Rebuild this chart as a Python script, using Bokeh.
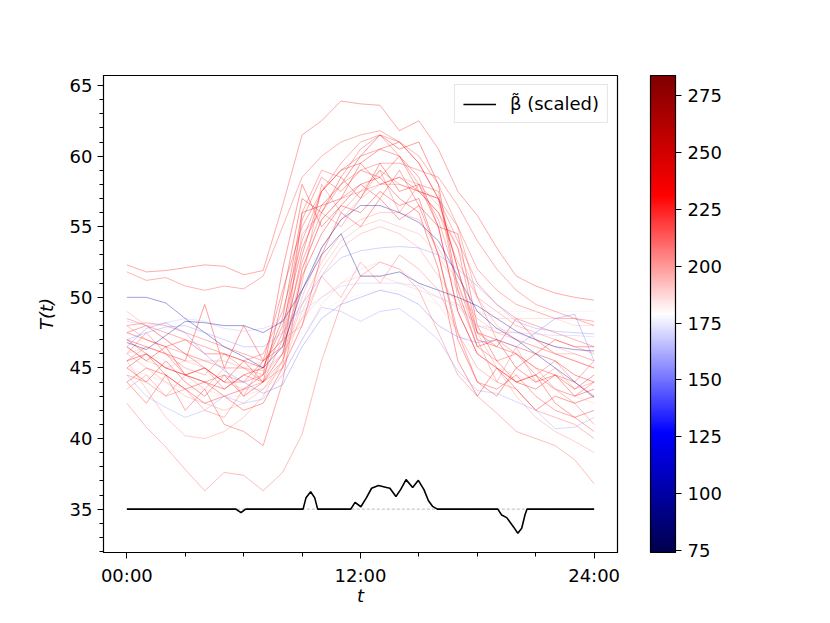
from bokeh.plotting import figure
from bokeh.models import (LinearColorMapper, ColorBar, FixedTicker, Range1d,
                          Legend, LegendItem)
from bokeh.embed import file_html
from bokeh.resources import INLINE

# ---------------- data ----------------
hours = list(range(25))

T01 = [52.3, 51.8, 51.9, 52.1, 52.3, 52.2, 51.6, 51.9, 56.5, 61.5, 62.5, 63.9, 63.7, 63.6, 61.8, 62.5, 60.5, 57.5, 55.8, 53.5, 51.5, 50.8, 50.3, 50.0, 49.8]
T02 = [51.8, 51.2, 51.4, 50.8, 50.5, 50.8, 50.6, 51.5, 55.0, 58.5, 60.0, 61.0, 61.5, 61.8, 61.0, 60.0, 58.0, 55.0, 52.0, 50.5, 49.5, 49.0, 48.5, 48.5, 48.3]
T03 = [42.5, 40.8, 39.4, 37.8, 36.3, 37.6, 37.4, 36.3, 37.6, 40.3, 45.5, 49.5, 51.5, 52.5, 52.0, 50.5, 47.5, 44.5, 43.0, 41.8, 40.5, 40.0, 39.5, 38.5, 36.8]
T04 = [44.0, 42.5, 44.5, 42.0, 43.5, 41.0, 40.5, 39.5, 44.0, 52.0, 55.5, 57.0, 58.0, 57.0, 59.0, 56.5, 53.0, 47.5, 44.0, 43.5, 44.5, 43.0, 42.0, 41.5, 40.5]
T05 = [45.5, 43.5, 41.5, 40.2, 40.0, 40.5, 41.5, 43.0, 45.5, 49.5, 52.5, 54.5, 55.5, 56.0, 56.0, 55.5, 53.5, 51.0, 47.5, 45.0, 43.0, 41.5, 40.5, 39.8, 39.0]
T06 = [47.0, 46.5, 46.0, 45.5, 49.5, 45.0, 48.0, 45.5, 46.5, 53.0, 57.5, 59.0, 59.5, 60.5, 61.0, 59.5, 57.0, 52.0, 47.0, 46.5, 48.5, 47.0, 46.0, 45.5, 45.0]
T07 = [46.0, 47.5, 46.0, 44.5, 45.0, 43.5, 44.5, 44.0, 45.0, 56.0, 59.0, 58.5, 60.5, 61.5, 60.0, 58.0, 57.5, 50.0, 46.5, 45.5, 46.0, 44.5, 45.5, 44.0, 45.5]
T08 = [48.0, 47.0, 46.5, 46.0, 45.5, 45.0, 45.0, 44.5, 46.0, 52.0, 55.5, 57.0, 57.5, 58.0, 58.0, 57.5, 56.0, 52.5, 50.0, 49.0, 48.0, 47.5, 47.0, 46.5, 46.0]
T09 = [45.0, 44.0, 45.5, 44.0, 43.0, 44.5, 43.0, 44.0, 50.0, 57.0, 56.0, 58.5, 57.0, 59.5, 57.5, 58.0, 55.0, 49.0, 46.0, 45.0, 44.0, 43.5, 44.5, 43.0, 43.5]
T10 = [46.5, 45.5, 45.0, 45.5, 45.0, 44.0, 43.5, 43.5, 45.0, 49.0, 52.0, 54.0, 55.0, 55.5, 55.0, 54.5, 53.0, 50.5, 48.5, 47.5, 47.5, 47.0, 46.5, 46.0, 45.5]
T11 = [47.5, 48.0, 47.0, 46.0, 45.0, 44.0, 44.0, 45.5, 50.5, 55.0, 57.5, 59.0, 60.0, 60.5, 60.0, 58.5, 55.0, 49.0, 46.0, 45.0, 44.0, 44.5, 43.5, 43.0, 44.0]
T12 = [45.5, 46.5, 46.0, 45.0, 44.5, 46.0, 45.0, 44.0, 45.5, 51.0, 58.0, 56.0, 57.5, 59.0, 56.0, 58.0, 55.5, 51.0, 47.0, 44.0, 43.5, 42.0, 41.5, 41.0, 40.0]
T13 = [44.0, 45.0, 44.5, 43.5, 44.0, 43.0, 43.5, 44.5, 52.0, 58.0, 55.0, 56.5, 56.0, 57.5, 56.5, 57.0, 53.0, 47.0, 44.0, 43.0, 45.0, 44.0, 44.5, 43.5, 44.5]
T14 = [46.0, 45.0, 44.0, 43.0, 42.5, 42.0, 42.5, 43.5, 45.5, 50.0, 53.5, 55.5, 57.0, 58.0, 58.5, 58.0, 56.5, 53.5, 50.0, 48.0, 47.0, 46.5, 46.0, 46.0, 45.5]
T15 = [48.5, 48.0, 47.5, 47.0, 46.5, 46.0, 45.5, 46.0, 49.0, 54.0, 57.5, 59.5, 61.0, 61.5, 61.0, 59.5, 57.0, 54.0, 51.0, 49.5, 48.5, 48.0, 47.5, 47.0, 46.5]
T16 = [47.0, 46.0, 45.0, 44.5, 44.0, 44.5, 44.0, 44.5, 47.5, 55.5, 58.5, 57.5, 59.0, 58.5, 60.0, 57.5, 56.0, 53.5, 47.5, 46.5, 46.0, 45.0, 44.5, 44.0, 43.0]
T17 = [46.0, 46.5, 46.0, 45.5, 45.5, 45.0, 45.0, 45.5, 46.5, 48.5, 50.0, 51.0, 51.5, 51.5, 51.0, 50.5, 50.0, 49.5, 49.0, 48.5, 48.5, 48.5, 48.5, 48.0, 48.0]
T18 = [46.5, 46.0, 45.5, 45.0, 44.5, 44.5, 44.0, 44.5, 45.5, 47.5, 49.0, 49.8, 50.2, 50.5, 50.5, 50.0, 49.5, 49.0, 49.0, 49.0, 49.0, 49.0, 49.0, 49.0, 49.0]
T19 = [45.0, 46.0, 44.5, 43.5, 42.5, 43.0, 42.0, 42.5, 45.0, 48.0, 53.0, 56.0, 55.0, 57.0, 55.5, 56.5, 55.0, 54.5, 48.0, 45.5, 44.0, 44.5, 42.5, 41.5, 42.0]
T20 = [44.5, 44.0, 43.0, 43.5, 42.0, 41.5, 43.5, 44.0, 47.0, 54.5, 56.0, 55.0, 57.0, 59.0, 58.0, 57.5, 57.0, 55.0, 50.0, 47.0, 46.0, 45.0, 43.5, 42.5, 41.0]
T21 = [48.0, 48.2, 48.0, 47.5, 47.0, 46.5, 46.0, 45.5, 47.0, 52.5, 56.0, 58.0, 59.0, 59.5, 59.5, 59.0, 58.5, 56.5, 54.0, 52.0, 50.5, 49.5, 49.0, 48.5, 48.0]
T22 = [43.5, 44.5, 43.0, 44.5, 43.5, 45.0, 43.0, 45.5, 47.0, 48.0, 51.5, 50.0, 52.5, 51.0, 53.0, 52.0, 50.5, 47.5, 45.0, 44.0, 46.5, 44.0, 45.0, 43.5, 44.0]
T23 = [47.5, 47.0, 46.5, 47.0, 46.0, 46.0, 45.5, 45.0, 48.0, 53.5, 56.5, 57.0, 59.5, 58.0, 58.5, 57.5, 57.0, 52.0, 47.5, 47.0, 46.5, 46.0, 47.0, 46.5, 46.5]
T24 = [49.0, 48.0, 47.0, 46.0, 45.5, 45.5, 45.0, 44.8, 46.0, 48.5, 51.5, 53.5, 54.5, 55.0, 54.5, 53.5, 51.5, 49.5, 48.0, 47.5, 47.0, 46.5, 46.0, 45.5, 45.0]
T25 = [46.5, 45.5, 46.5, 44.5, 45.0, 44.0, 45.5, 44.0, 46.0, 51.5, 54.5, 56.5, 58.0, 58.5, 57.0, 56.0, 52.0, 45.5, 43.0, 45.0, 43.5, 42.0, 43.0, 42.5, 43.0]
T26 = [45.0, 44.5, 44.0, 43.5, 43.5, 43.0, 43.0, 43.5, 44.5, 47.0, 49.5, 51.0, 52.0, 52.5, 52.0, 51.0, 49.5, 47.5, 46.0, 45.0, 44.5, 44.0, 43.5, 43.0, 42.5]
T27 = [45.5, 46.0, 45.0, 44.5, 44.0, 43.5, 44.5, 45.0, 48.5, 56.0, 56.5, 58.0, 60.0, 61.5, 60.5, 61.0, 58.0, 50.5, 46.5, 47.0, 45.0, 46.0, 45.5, 44.5, 44.0]
T28 = [47.0, 47.5, 47.9, 48.0, 47.5, 47.0, 46.5, 46.5, 47.5, 49.5, 51.5, 52.8, 53.3, 53.5, 53.6, 53.5, 53.0, 52.0, 50.8, 49.5, 48.3, 47.8, 47.6, 47.5, 47.4]
T29 = [48.3, 48.0, 48.2, 48.5, 48.3, 47.8, 47.6, 47.8, 48.3, 49.0, 50.0, 50.8, 51.0, 51.0, 51.0, 50.8, 50.0, 49.3, 48.0, 47.8, 47.5, 47.4, 47.3, 47.3, 47.2]
T30 = [44.5, 43.0, 42.2, 41.5, 42.0, 43.0, 42.5, 42.8, 44.5, 47.0, 49.3, 49.0, 48.3, 49.0, 49.2, 48.2, 47.0, 44.8, 43.4, 43.2, 42.6, 42.0, 40.7, 40.8, 41.5]
T31 = [46.5, 47.8, 48.2, 47.5, 46.0, 44.8, 44.0, 43.2, 43.8, 46.5, 48.5, 49.5, 50.0, 50.5, 50.2, 49.5, 48.0, 47.2, 46.8, 47.0, 46.5, 47.5, 48.5, 48.8, 45.5]
T32 = [46.8, 46.3, 47.3, 48.3, 48.2, 48.0, 48.0, 47.5, 48.3, 50.5, 53.0, 54.5, 51.5, 51.5, 51.8, 51.0, 50.5, 50.0, 49.4, 48.5, 47.6, 47.0, 46.5, 46.3, 46.2]
T33 = [50.0, 50.0, 49.6, 48.5, 47.5, 46.5, 45.8, 45.0, 46.5, 50.5, 53.5, 55.5, 56.5, 56.5, 56.0, 55.3, 54.0, 51.5, 49.0, 47.8, 47.0, 46.0, 45.0, 44.0, 42.9]

curves = [T01, T02, T03, T04, T05, T06, T07, T08, T09, T10, T11, T12, T13, T14,
          T15, T16, T17, T18, T19, T20, T21, T22, T23, T24, T25, T26, T27, T28,
          T29, T30, T31, T32, T33]
curve_values = [225, 220, 215, 225, 205, 230, 220, 210, 235, 200, 225, 215, 230, 205,
                220, 225, 195, 185, 230, 215, 220, 210, 228, 205, 235, 192, 240, 155,
                165, 158, 150, 95, 100]

beta_t = [0, 5.6, 5.86, 6.1, 9.05, 9.2, 9.44, 9.65, 9.8, 11.5, 11.72, 12.02, 12.3,
          12.57, 12.92, 13.34, 13.51, 13.82, 14.06, 14.34, 14.68, 14.97, 15.26, 15.49,
          15.7, 15.95, 19.05, 19.25, 19.51, 19.85, 20.08, 20.28, 20.45, 20.55, 24]
beta_v = [35, 35, 34.75, 35, 35, 35.8, 36.23, 35.8, 35, 35, 35.48, 35.17, 35.8,
          36.48, 36.67, 36.53, 36.48, 35.9, 36.38, 37.09, 36.53, 37.04, 36.38, 35.6,
          35.2, 35, 35, 34.59, 34.4, 33.76, 33.29, 33.65, 34.6, 35, 35]
baseline_t = [0, 24]
baseline_v = [35, 35]

x_ticks = [0, 12, 24]
x_tick_labels = ["00:00", "12:00", "24:00"]
y_ticks = [35, 40, 45, 50, 55, 60, 65]
cbar_ticks = [75, 100, 125, 150, 175, 200, 225, 250, 275]
c_low, c_high = 74, 284

# ---------------- colormap (seismic) ----------------
_stops = [(0.0, (0.0, 0.0, 0.3)), (0.25, (0.0, 0.0, 1.0)), (0.5, (1.0, 1.0, 1.0)),
          (0.75, (1.0, 0.0, 0.0)), (1.0, (0.5, 0.0, 0.0))]


def seismic(t):
    t = min(max(t, 0.0), 1.0)
    for (a, ca), (b, cb) in zip(_stops[:-1], _stops[1:]):
        if t <= b:
            f = (t - a) / (b - a)
            rgb = [ca[i] + f * (cb[i] - ca[i]) for i in range(3)]
            return "#%02x%02x%02x" % tuple(int(round(255 * v)) for v in rgb)
    return "#800000"


palette = [seismic(i / 255) for i in range(256)]

# ---------------- figure ----------------
p = figure(frame_width=514, frame_height=477,
           x_range=Range1d(-1.2, 25.2), y_range=Range1d(31.93, 65.71),
           output_backend="svg", toolbar_location=None,
           min_border_left=103, min_border_top=75, min_border_bottom=55,
           min_border_right=150)
p.grid.visible = False
p.outline_line_color = "black"
p.outline_line_width = 1.2
p.background_fill_color = "white"
p.border_fill_color = "white"

for ys, cv in zip(curves, curve_values):
    p.line(hours, ys, line_color=seismic((cv - c_low) / (c_high - c_low)),
           line_alpha=0.42, line_width=0.9)

p.line(baseline_t, baseline_v, line_color="#aaaaaa", line_width=0.8, line_dash="3 2")
beta_r = p.line(beta_t, beta_v, line_color="black", line_width=1.6)

legend = Legend(items=[LegendItem(label="β̃ (scaled)", renderers=[beta_r])],
                location="top_right")
legend.label_text_font = "DejaVu Sans"
legend.label_text_font_size = "18px"
legend.label_text_color = "black"
legend.border_line_color = "#cccccc"
legend.border_line_width = 1
legend.background_fill_alpha = 0.8
legend.margin = 9
legend.padding = 8
legend.glyph_width = 33
legend.label_standoff = 14
p.add_layout(legend)

for ax in (p.xaxis[0], p.yaxis[0]):
    ax.major_tick_in = 0
    ax.major_tick_out = 6
    ax.minor_tick_in = 0
    ax.minor_tick_out = 4
    ax.major_tick_line_color = "black"
    ax.minor_tick_line_color = "black"
    ax.axis_line_color = "black"
    ax.major_label_text_font = "DejaVu Sans"
    ax.major_label_text_font_size = "18px"
    ax.major_label_text_color = "black"
    ax.axis_label_text_font = "DejaVu Sans"
    ax.axis_label_text_font_size = "18px"
    ax.axis_label_text_font_style = "italic"
    ax.axis_label_text_color = "black"

p.xaxis.ticker = FixedTicker(ticks=x_ticks, minor_ticks=[3, 6, 9, 15, 18, 21])
p.xaxis.major_label_overrides = dict(zip(x_ticks, x_tick_labels))
p.xaxis.axis_label = "t"
p.xaxis.major_label_standoff = 6
p.xaxis.axis_label_standoff = -4

p.yaxis.ticker = FixedTicker(ticks=y_ticks, minor_ticks=list(range(32, 66)))
p.yaxis.axis_label = "T(t)"
p.yaxis.major_label_standoff = 5
p.yaxis.axis_label_standoff = 10

mapper = LinearColorMapper(palette=palette, low=c_low, high=c_high)
cbar = ColorBar(color_mapper=mapper, ticker=FixedTicker(ticks=cbar_ticks),
                width=25, height=477, padding=0, margin=0, location=(33, 0),
                major_label_text_font="DejaVu Sans",
                major_label_text_font_size="18px",
                major_label_text_color="black",
                major_tick_in=0, major_tick_out=6, major_tick_line_color="black",
                minor_tick_line_color=None,
                bar_line_color="black", bar_line_width=1.2,
                label_standoff=6, background_fill_alpha=0,
                border_line_color=None)
p.add_layout(cbar, "right")

open("out.html", "w").write(file_html(p, INLINE))
